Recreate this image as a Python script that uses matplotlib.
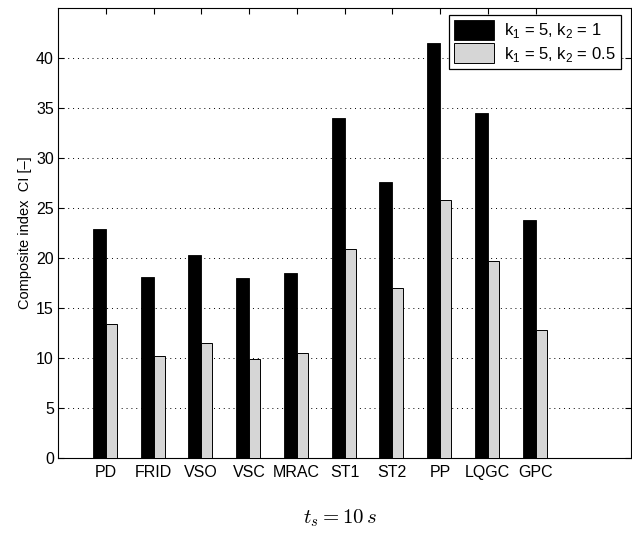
import numpy as np
import matplotlib
matplotlib.use('Agg')
import matplotlib.pyplot as plt

methods = ['PD', 'FRID', 'VSO', 'VSC', 'MRAC', 'ST1', 'ST2', 'PP', 'LQGC', 'GPC']
ci_k2_1 = [22.9, 18.1, 20.3, 18.0, 18.5, 34.0, 27.6, 41.5, 34.5, 23.8]
ci_k2_05 = [13.4, 10.2, 11.5, 9.9, 10.5, 20.9, 17.0, 25.8, 19.7, 12.8]
labels = [r'k$_1$ = 5, k$_2$ = 1', r'k$_1$ = 5, k$_2$ = 0.5']

plt.rcParams['font.family'] = ['Liberation Sans', 'DejaVu Sans']
plt.rcParams['mathtext.fontset'] = 'custom'
plt.rcParams['mathtext.rm'] = 'Liberation Sans'

fig = plt.figure(figsize=(6.32, 5.33), dpi=100)
ax = fig.add_axes([58 / 632, 75 / 533, 573 / 632, 450 / 533])

x = np.arange(1, len(methods) + 1)
ax.bar(x - 0.135, ci_k2_1, width=0.27, color='black', edgecolor='black',
       linewidth=0.6, label=labels[0], zorder=3)
ax.bar(x + 0.12, ci_k2_05, width=0.23, color='#d6d6d6', edgecolor='black',
       linewidth=0.7, label=labels[1], zorder=3)

ax.set_xlim(0, 12)
ax.set_ylim(0, 45)
ax.set_xticks(x)
ax.set_xticklabels(methods, fontsize=11.5)
ax.set_yticks(np.arange(0, 45, 5))
ax.tick_params(axis='y', labelsize=11.5, pad=3)
ax.tick_params(axis='x', pad=5)
ax.tick_params(direction='in', top=True, right=True, length=4, width=0.8)
ax.yaxis.grid(True, linestyle=(0, (1, 4)), color='black', linewidth=0.7)
for s in ax.spines.values():
    s.set_linewidth(0.8)

ax.set_ylabel('Composite index  CI [\u2013]', fontsize=10.5, labelpad=3)

leg = ax.legend(loc='upper right', fontsize=12, fancybox=False, edgecolor='black',
                framealpha=1, handlelength=2.4, handleheight=1.5,
                borderpad=0.3, labelspacing=0.15, handletextpad=0.6,
                borderaxespad=0.0, bbox_to_anchor=(0.982, 0.985))
leg.get_frame().set_linewidth(0.9)

fig.text(340 / 632, 1 - 518 / 533, r'$t_s = 10\,s$', fontsize=15,
         ha='center', va='center', math_fontfamily='cm')

fig.savefig('out.png', dpi=100)
